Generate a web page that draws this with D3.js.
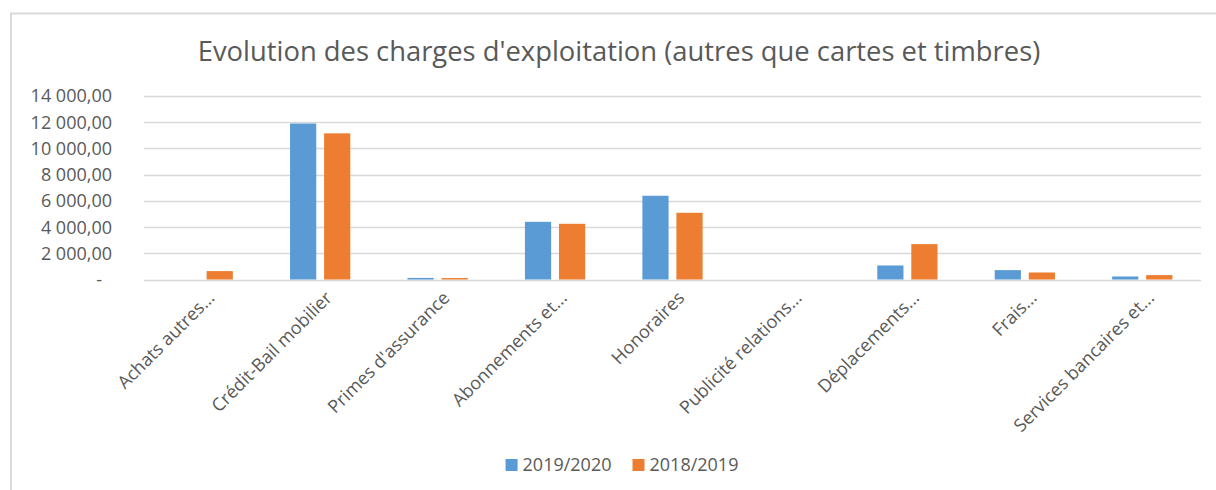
<!DOCTYPE html>
<html>
<head>
  <meta charset="utf-8">
  <script src="https://d3js.org/d3.v7.min.js"></script>
  <style>
    body {
      margin: 0;
      background: #ffffff;
      font-family: "Open Sans", sans-serif;
    }

    .tick_label, .cat_label, .legend_label, .title {
      fill: #595959;
    }

    .grid {
      stroke: #d9d9d9;
      stroke-width: 1.3;
    }
  </style>
  <title>Evolution des charges d'exploitation</title>
</head>
<body>
  <svg></svg>

  <script>
    const categories = [
      "Achats autres...",
      "Crédit-Bail mobilier",
      "Primes d'assurance",
      "Abonnements et...",
      "Honoraires",
      "Publicité relations...",
      "Déplacements...",
      "Frais...",
      "Services bancaires et..."
    ]

    const seriesNames = ["2019/2020", "2018/2019"]
    const seriesColors = ["#5b9bd5", "#ed7d31"]

    const values2019_2020 = [0, 11900, 120, 4400, 6390, 0, 1070, 715, 230]
    const values2018_2019 = [640, 11150, 110, 4250, 5090, 0, 2700, 535, 335]

    const yTicks = [0, 2000, 4000, 6000, 8000, 10000, 12000, 14000]

    const width = 1216
    const height = 490

    const svg = d3.select("svg")
      .attr("width", width)
      .attr("height", height)

    // chart frame (only top and left edges are visible)
    svg.append("rect")
      .attr("x", 11)
      .attr("y", 13.5)
      .attr("width", 1300)
      .attr("height", 600)
      .attr("fill", "none")
      .attr("stroke", "#d9d9d9")
      .attr("stroke-width", 2)

    const title = svg.append("text")
      .attr("class", "title")
      .attr("x", 619)
      .attr("y", 61)
      .attr("text-anchor", "middle")
      .style("font-size", "27px")
      .text("Evolution des charges d'exploitation (autres que cartes et timbres)")

    const titleLen = title.node().getComputedTextLength()
    title.style("font-size", (27 * 843 / titleLen) + "px")

    const x0 = d3.scaleBand()
      .domain(categories)
      .range([144, 1201])

    const x1 = d3.scaleBand()
      .domain(seriesNames)
      .range([0, x0.bandwidth()])
      .paddingInner(0.23)
      .paddingOuter(0.84)

    const y = d3.scaleLinear()
      .domain([0, 14000])
      .range([279.5, 96])

    const fr = d3.formatLocale({
      decimal: ",",
      thousands: "\u00a0",
      grouping: [3],
      currency: ["", " €"]
    })
    const fmt = fr.format(",.2f")

    svg.selectAll(".grid")
      .data(yTicks)
      .enter()
      .append("line")
      .attr("class", "grid")
      .attr("x1", x0.range()[0])
      .attr("x2", x0.range()[1])
      .attr("y1", d => Math.round(y(d)) + 0.5)
      .attr("y2", d => Math.round(y(d)) + 0.5)

    svg.selectAll(".tick_label")
      .data(yTicks)
      .enter()
      .append("text")
      .attr("class", "tick_label")
      .attr("x", d => d === 0 ? 102 : 112)
      .attr("y", d => y(d))
      .attr("dy", "0.36em")
      .attr("text-anchor", "end")
      .style("font-size", "18px")
      .text(d => d === 0 ? "-" : fmt(d))

    const rows = categories.map((c, i) => ({
      cat: c,
      vals: [values2019_2020[i], values2018_2019[i]]
    }))

    const groups = svg.selectAll(".group")
      .data(rows)
      .enter()
      .append("g")
      .attr("class", "group")
      .attr("transform", d => `translate(${x0(d.cat)},0)`)

    groups.selectAll("rect")
      .data(d => d.vals.map((v, j) => ({ name: seriesNames[j], value: v, color: seriesColors[j] })))
      .enter()
      .append("rect")
      .attr("x", d => x1(d.name))
      .attr("width", x1.bandwidth())
      .attr("y", d => y(d.value))
      .attr("height", d => y(0) - y(d.value))
      .attr("fill", d => d.color)

    svg.selectAll(".cat_label")
      .data(categories)
      .enter()
      .append("text")
      .attr("class", "cat_label")
      .attr("text-anchor", "end")
      .style("font-size", "18px")
      .attr("transform", d => {
        const cx = x0(d) + x0.bandwidth() / 2 + 13
        return `translate(${cx},299) rotate(-45)`
      })
      .text(d => d)

    // legend
    const legend = svg.append("g")
    let lx = 0
    seriesNames.forEach((name, i) => {
      legend.append("rect")
        .attr("x", lx)
        .attr("y", 459)
        .attr("width", 12)
        .attr("height", 12)
        .attr("fill", seriesColors[i])
      const t = legend.append("text")
        .attr("class", "legend_label")
        .attr("x", lx + 17)
        .attr("y", 471)
        .style("font-size", "18px")
        .text(name)
      lx += 17 + t.node().getComputedTextLength() + 21
    })
    const legendWidth = lx - 21
    legend.attr("transform", `translate(${622 - legendWidth / 2},0)`)
  </script>
</body>
</html>
